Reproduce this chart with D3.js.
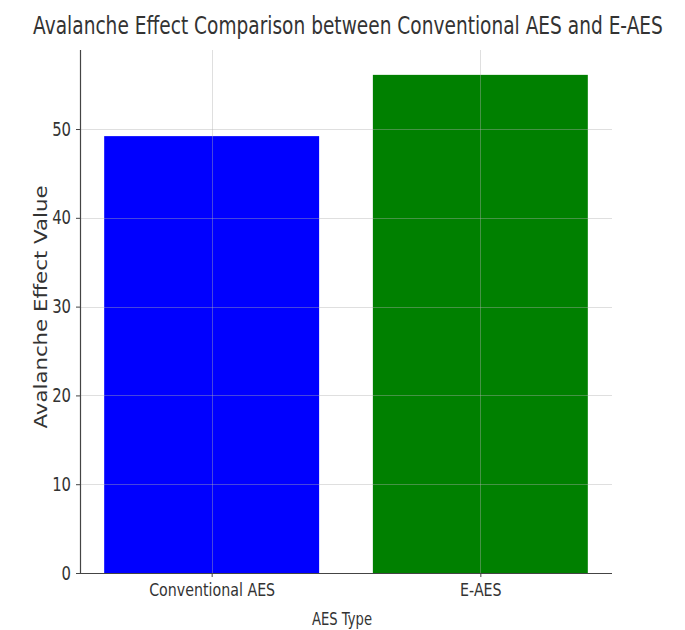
<!DOCTYPE html>
<html>
<head>
<meta charset="utf-8">
<script src="https://cdn.jsdelivr.net/npm/d3@7"></script>
<style>
  html, body { margin: 0; padding: 0; background: #fff; }
  svg { display: block; }
  text { font-family: "DejaVu Sans", sans-serif; fill: #333; }
</style>
</head>
<body>
<svg id="chart" width="685" height="630"></svg>
<script>
// ---- data ----
const categories = ["Conventional AES", "E-AES"];
const values = [49.2, 56.1];
const barColors = ["#0000ff", "#008000"];
const yTicks = [0, 10, 20, 30, 40, 50];
const titleText = "Avalanche Effect Comparison between Conventional AES and E-AES";
const xLabelText = "AES Type";
const yLabelText = "Avalanche Effect Value";

// ---- layout ----
const mLeft = 80, mRight = 612, mTop = 50, mBottom = 573;
const svg = d3.select("#chart");

const x = d3.scaleLinear().domain([-0.49, 1.49]).range([mLeft, mRight]);
const y = d3.scaleLinear().domain([0, 58.9]).range([mBottom, mTop]);

// bars
svg.append("g").selectAll("rect").data(values).join("rect")
  .attr("x", (d, i) => x(i - 0.4))
  .attr("width", (d, i) => x(i + 0.4) - x(i - 0.4))
  .attr("y", d => y(d))
  .attr("height", d => y(0) - y(d))
  .attr("fill", (d, i) => barColors[i]);

// grid (drawn above bars, translucent)
const grid = svg.append("g").attr("stroke", "#b0b0b0").attr("stroke-opacity", 0.4).attr("stroke-width", 1);
grid.selectAll("line.h").data(yTicks.filter(t => t > 0)).join("line")
  .attr("x1", mLeft).attr("x2", mRight)
  .attr("y1", d => Math.round(y(d)) + 0.5).attr("y2", d => Math.round(y(d)) + 0.5);
grid.selectAll("line.v").data(categories.map((c, i) => i)).join("line")
  .attr("x1", d => Math.round(x(d)) + 0.5).attr("x2", d => Math.round(x(d)) + 0.5)
  .attr("y1", mTop).attr("y2", mBottom);

// compress helper for condensed-looking text
function squeeze(sel, ratio) {
  sel.each(function () {
    const w = this.getComputedTextLength();
    d3.select(this).attr("textLength", w * ratio).attr("lengthAdjust", "spacingAndGlyphs");
  });
}

// y axis
const yAxis = svg.append("g").attr("transform", `translate(${mLeft},0)`)
  .call(d3.axisLeft(y).tickValues(yTicks).tickSize(4).tickPadding(5).tickFormat(d3.format("d")));
yAxis.select(".domain").attr("stroke", "#444").attr("stroke-width", 1.2).attr("d", `M0.5,${mTop}V${mBottom}`);
yAxis.selectAll(".tick line").attr("stroke", "#444");
yAxis.selectAll(".tick text").style("font-size", "19px").attr("fill", "#444")
  .attr("font-family", "DejaVu Sans").call(squeeze, 0.78);

// x axis
const xAxis = svg.append("g").attr("transform", `translate(0,${mBottom})`)
  .call(d3.axisBottom(x).tickValues([0, 1]).tickSize(4).tickPadding(6).tickFormat(i => categories[i]));
xAxis.select(".domain").attr("stroke", "#444").attr("stroke-width", 1.2).attr("d", `M${mLeft},0.5H${mRight}`);
xAxis.selectAll(".tick line").attr("stroke", "#444");
xAxis.selectAll(".tick text").style("font-size", "18px").attr("fill", "#444")
  .attr("font-family", "DejaVu Sans").call(squeeze, 0.79);

// title (horizontally scaled via transform so its box stays inside the page)
const title = svg.append("text").attr("text-anchor", "middle")
  .style("font-size", "24px").attr("fill", "#333").text(titleText);
const tw = title.node().getComputedTextLength();
title.attr("transform", `translate(348,34) scale(${630 / tw},1)`);

// x label
svg.append("text").attr("x", 342).attr("y", 625).attr("text-anchor", "middle")
  .style("font-size", "18px").attr("fill", "#444").text(xLabelText)
  .attr("textLength", 60).attr("lengthAdjust", "spacingAndGlyphs");

// y label
svg.append("text").attr("transform", "translate(47,307) rotate(-90)").attr("text-anchor", "middle")
  .style("font-size", "17px").attr("fill", "#444").text(yLabelText)
  .attr("textLength", 243).attr("lengthAdjust", "spacingAndGlyphs");
</script>
</body>
</html>
